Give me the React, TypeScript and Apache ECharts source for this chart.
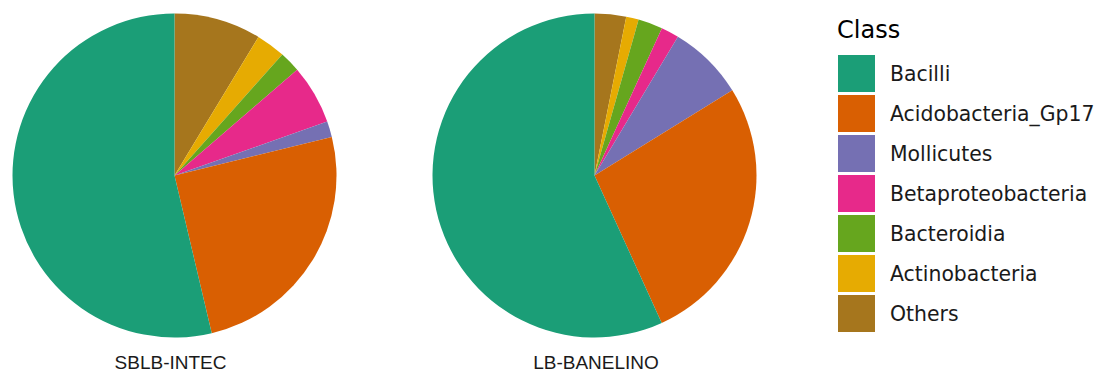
import React, { useEffect, useRef } from "react";
import * as echarts from "echarts";

const categories = [
  "Others",
  "Actinobacteria",
  "Bacteroidia",
  "Betaproteobacteria",
  "Mollicutes",
  "Acidobacteria_Gp17",
  "Bacilli",
];
const legendOrder = [
  "Bacilli",
  "Acidobacteria_Gp17",
  "Mollicutes",
  "Betaproteobacteria",
  "Bacteroidia",
  "Actinobacteria",
  "Others",
];
const colors: Record<string, string> = {
  Bacilli: "#1B9E77",
  Acidobacteria_Gp17: "#D95F02",
  Mollicutes: "#7570B3",
  Betaproteobacteria: "#E7298A",
  Bacteroidia: "#66A61E",
  Actinobacteria: "#E6AB02",
  Others: "#A6761D",
};
const sampleNames = ["SBLB-INTEC", "LB-BANELINO"];
const sblbValues = [8.67, 2.92, 2.08, 5.92, 1.58, 25.14, 53.69];
const banelinoValues = [3.14, 1.25, 2.44, 1.78, 7.58, 27.0, 56.81];

export default function App() {
  const ref = useRef<HTMLDivElement>(null);
  useEffect(() => {
    document.body.style.margin = "0";
    const chart = echarts.init(ref.current!, null, { renderer: "svg" });
    const mk = (name: string, vals: number[], cx: number) => ({
      type: "pie",
      name,
      center: [cx, 175.5],
      radius: [0, 162],
      startAngle: 90,
      clockwise: true,
      avoidLabelOverlap: false,
      label: { show: false },
      labelLine: { show: false },
      emphasis: { disabled: true },
      itemStyle: { borderWidth: 0 },
      data: categories.map((c, i) => ({
        name: c,
        value: vals[i],
        itemStyle: { color: colors[c] },
      })),
    });
    chart.setOption({
      animation: false,
      legend: {
        orient: "vertical",
        left: 838,
        top: 55,
        padding: 0,
        data: legendOrder,
        icon: "rect",
        itemWidth: 37,
        itemHeight: 37,
        itemGap: 3,
        selectedMode: false,
        textStyle: {
          fontFamily: "DejaVu Sans",
          fontSize: 20.4,
          color: "#1a1a1a",
          padding: [0, 0, 0, 10],
        },
      },
      graphic: [
        {
          type: "text",
          x: 837,
          y: 30,
          style: {
            text: "Class",
            fontFamily: "DejaVu Sans",
            fontSize: 24,
            fill: "#000",
            textAlign: "left",
            textVerticalAlign: "middle",
          },
        },
        {
          type: "text",
          x: 170.5,
          y: 362,
          style: {
            text: sampleNames[0],
            fontFamily: "Liberation Sans",
            fontSize: 19,
            fill: "#1a1a1a",
            textAlign: "center",
            textVerticalAlign: "middle",
          },
        },
        {
          type: "text",
          x: 596,
          y: 362,
          style: {
            text: sampleNames[1],
            fontFamily: "Liberation Sans",
            fontSize: 19,
            fill: "#1a1a1a",
            textAlign: "center",
            textVerticalAlign: "middle",
          },
        },
      ],
      series: [mk(sampleNames[0], sblbValues, 174.5), mk(sampleNames[1], banelinoValues, 594.5)],
    });
    return () => chart.dispose();
  }, []);
  return <div ref={ref} style={{ width: 1096, height: 371 }} />;
}
